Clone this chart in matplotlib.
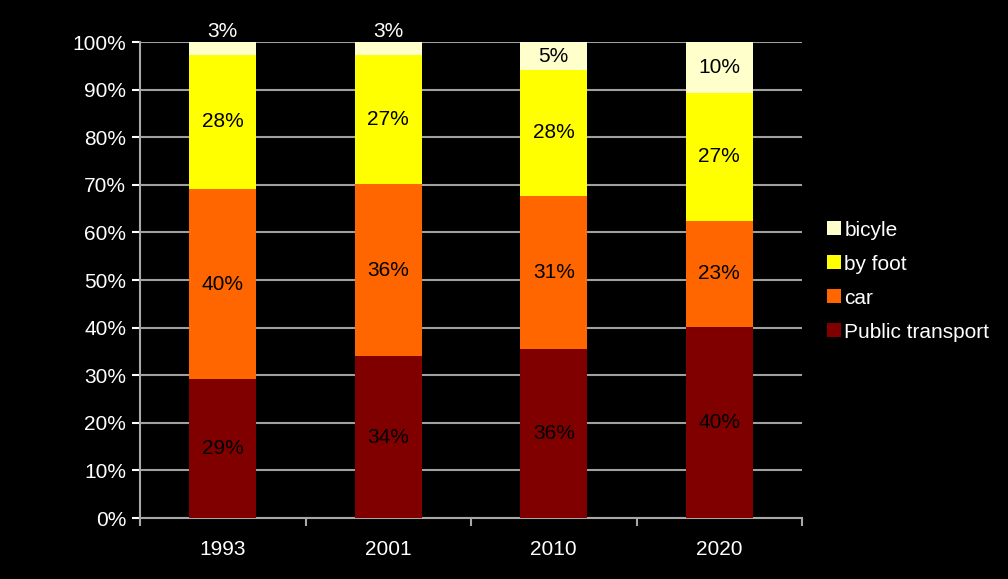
import matplotlib.pyplot as plt
import numpy as np

# share of trips per mode: bar heights (percent)
years = ["1993", "2001", "2010", "2020"]
public_transport = [29.2, 34.0, 35.4, 40.1]
car = [39.9, 36.1, 32.3, 22.4]
by_foot = [28.2, 27.2, 26.4, 26.7]
bicycle = [2.7, 2.7, 5.9, 10.8]

# the printed labels on the segments
pt_labels = [29, 34, 36, 40]
car_labels = [40, 36, 31, 23]
foot_labels = [28, 27, 28, 27]
bike_labels = [3, 3, 5, 10]

series = [("Public transport", public_transport, pt_labels, "#800000"),
          ("car", car, car_labels, "#FF6600"),
          ("by foot", by_foot, foot_labels, "#FFFF00"),
          ("bicyle", bicycle, bike_labels, "#FFFFCC")]

plt.rcParams['font.family'] = ['Liberation Sans', 'DejaVu Sans']
FS = 15

fig = plt.figure(figsize=(10.08, 5.79), dpi=100, facecolor='black')
ax = fig.add_axes([140 / 1008, 1 - 518 / 579, 662 / 1008, 476 / 579])
ax.set_facecolor('black')

x = np.arange(len(years))
bottom = np.zeros(len(years))
handles = []
for name, vals, labs, col in series:
    vals = np.array(vals)
    b = ax.bar(x, vals, 0.407, bottom=bottom, color=col, label=name, zorder=3)
    handles.append(b)
    for xi, bo, h, lab in zip(x, bottom, vals, labs):
        if h < 4:
            # too small to fit: put it on top of the bar
            ax.text(xi, bo + h + 0.2, "%d%%" % lab, ha='center', va='bottom',
                    color='white', fontsize=FS, zorder=4)
        else:
            ax.text(xi, bo + h / 2, "%d%%" % lab, ha='center', va='center',
                    color='black', fontsize=FS, zorder=4)
    bottom = bottom + vals

ax.set_xlim(-0.5, len(years) - 0.5)
ax.set_ylim(0, 100)
ax.set_yticks(np.arange(0, 101, 10))
ax.set_yticklabels(["%d%%" % v for v in range(0, 101, 10)])
ax.set_xticks(x)
ax.set_xticklabels(years)
ax.set_xticks(np.arange(-0.5, len(years), 1), minor=True)
ax.tick_params(axis='x', which='major', length=0, pad=16)
ax.tick_params(axis='x', which='minor', length=6, color='#A8A8A8', width=1.5)
ax.tick_params(axis='y', length=6, color='#A8A8A8', width=1.5, pad=4)
ax.tick_params(colors='white', labelsize=FS)
ax.yaxis.grid(True, color='#A0A0A0', linewidth=1.5, zorder=0)

for sp in ['top', 'right']:
    ax.spines[sp].set_visible(False)
for sp in ['left', 'bottom']:
    ax.spines[sp].set_color('#A8A8A8')
    ax.spines[sp].set_linewidth(1.5)

leg = fig.legend(handles[::-1], [s[0] for s in series][::-1],
                 loc='center left', bbox_to_anchor=(827 / 1008, 1 - 281 / 579),
                 frameon=False, fontsize=FS, labelcolor='white',
                 borderpad=0, borderaxespad=0,
                 handlelength=0.68, handleheight=0.68, handletextpad=0.15,
                 labelspacing=0.72)

fig.savefig("out.png", dpi=100, facecolor='black')
